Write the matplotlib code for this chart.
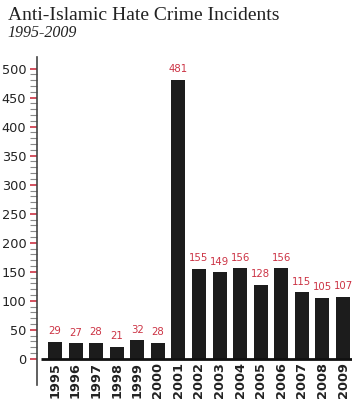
import matplotlib
matplotlib.use("Agg")
import matplotlib.pyplot as plt
import numpy as np

years = ["1995", "1996", "1997", "1998", "1999", "2000", "2001", "2002",
         "2003", "2004", "2005", "2006", "2007", "2008", "2009"]
incidents = [29, 27, 28, 21, 32, 28, 481, 155, 149, 156, 128, 156, 115, 105, 107]
yticks = [0, 50, 100, 150, 200, 250, 300, 350, 400, 450, 500]

RED = "#cc3344"
BAR = "#1c1c1c"

fig = plt.figure(figsize=(3.6, 4.0), dpi=100)
ax = fig.add_axes([0.104, 0.0375, 0.874, 0.82])

x = np.arange(len(years))
ax.bar(x, incidents, width=0.68, color=BAR, zorder=2)
ax.set_xlim(-0.85, 14.44)
ax.set_ylim(-45, 520)

# baseline
ax.hlines(0, -0.7, 14.44, color="#111111", linewidth=2, zorder=3)

for s in ["top", "right", "bottom"]:
    ax.spines[s].set_visible(False)
ax.spines["left"].set_color("#444444")
ax.spines["left"].set_linewidth(1.2)

ax.set_yticks(yticks)
ax.set_yticklabels([str(v) for v in yticks], fontsize=9.3, color="#222222",
                   family="DejaVu Sans")
ax.tick_params(axis="y", which="major", length=5, width=1.2, color=RED, pad=3)
minor = [v for v in range(10, 500, 10) if v % 50 != 0]
ax.set_yticks(minor, minor=True)
ax.tick_params(axis="y", which="minor", length=5, width=0.8, color="#888888")

ax.set_xticks([])
for xi, yr in zip(x, years):
    ax.text(xi, -6, yr, rotation=90, ha="center", va="top", fontsize=9.3,
            fontweight="bold", color="#222222", family="DejaVu Sans")

for xi, v in zip(x, incidents):
    ax.annotate(str(v), (xi, v), xytext=(0, 4), textcoords="offset points",
                ha="center", va="bottom", fontsize=7.3, color=RED)

fig.text(0.022, 0.962, "Anti-Islamic Hate Crime Incidents", fontsize=14,
         family="Liberation Serif", ha="left", va="center", color="#222222")
fig.text(0.022, 0.917, "1995-2009", fontsize=11.5, family="Liberation Serif",
         style="italic", ha="left", va="center", color="#222222")

fig.savefig("out.png", dpi=100)
